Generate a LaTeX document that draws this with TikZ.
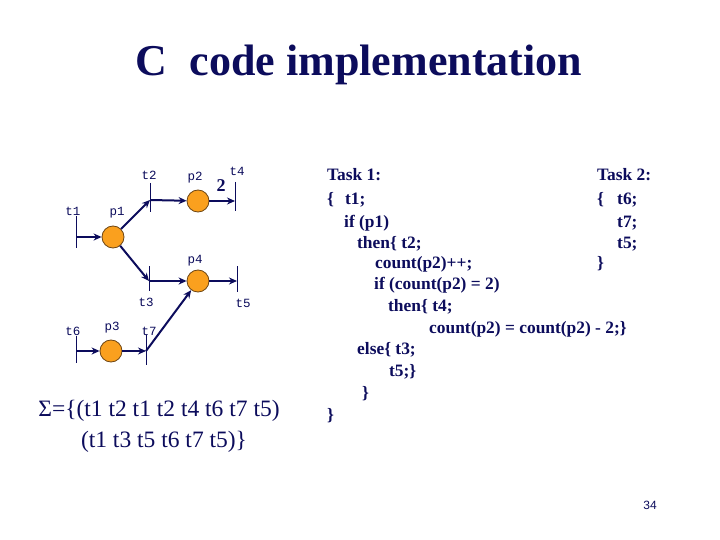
\documentclass[tikz,border=0pt]{standalone}
\usepackage{fontspec}
\setmainfont{Liberation Serif}
\newfontfamily\labfont{Liberation Mono}
\newfontfamily\numfont{Liberation Sans}
\usetikzlibrary{arrows.meta}
\definecolor{navy}{RGB}{12,12,92}
\definecolor{porange}{RGB}{250,160,30}
\definecolor{pborder}{RGB}{110,70,20}
\tikzset{
  place/.style={circle,draw=pborder,line width=0.8pt,fill=porange,minimum size=22pt,inner sep=0pt},
  trans/.style={draw=navy,line width=1pt},
  arc/.style={draw=navy,line width=2pt,-{Stealth[length=8pt,width=7pt]}},
  lab/.style={font=\labfont\fontsize{12.5}{12.5}\selectfont,text=navy,inner sep=0pt},
  code/.style={font=\bfseries\fontsize{17.4}{17.4}\selectfont,text=navy,anchor=base west,inner sep=0pt},
}
\begin{document}
\begin{tikzpicture}[x=1pt,y=-1pt]
\useasboundingbox (0,0) rectangle (720,540);
\fill[white] (0,0) rectangle (720,540);
% title
\node[font=\bfseries\fontsize{44}{44}\selectfont,text=navy,inner sep=0pt] (title) at (359,65) {C\ \ code implementation};
% transitions
\coordinate (t1) at (76,237);
\coordinate (t2) at (150,200);
\coordinate (t4) at (235,201);
\coordinate (t3) at (149,281);
\coordinate (t5) at (237,281);
\coordinate (t6) at (76,351);
\coordinate (t7) at (146,351);
\draw[trans] (76,216) -- (76,248);
\draw[trans] (150,183) -- (150,212);
\draw[trans] (235,182) -- (235,211);
\draw[trans] (149,266) -- (149,291);
\draw[trans] (237,266) -- (237,292);
\draw[trans] (76,336) -- (76,363);
\draw[trans] (146,335) -- (146,365);
% places
\node[place] (p1) at (113,237) {};
\node[place] (p2) at (198,201) {};
\node[place] (p4) at (198,281) {};
\node[place] (p3) at (111,351) {};
% arcs
\draw[arc] (t1) -- (p1);
\draw[arc] (p1) -- (t2);
\draw[arc] (t2) -- (p2);
\draw[arc] (p2) -- (t4);
\draw[arc] (p1) -- (t3);
\draw[arc] (t3) -- (p4);
\draw[arc] (p4) -- (t5);
\draw[arc] (t6) -- (p3);
\draw[arc] (p3) -- (t7);
\draw[arc] (t7) -- (p4);
% labels
\node[lab] (lt1) at (73,211) {t1};
\node[lab] (lp1) at (117,213) {p1};
\node[lab] (lt2) at (149,175) {t2};
\node[lab] (lp2) at (195,178) {p2};
\node[font=\bfseries\fontsize{18}{18}\selectfont,text=navy,inner sep=0pt] (w2) at (221,186) {2};
\node[lab] (lt4) at (237,171) {t4};
\node[lab] (lp4) at (195,261) {p4};
\node[lab] (lt3) at (146,302) {t3};
\node[lab] (lt5) at (243,303) {t5};
\node[lab] (lt6) at (73,331) {t6};
\node[lab] (lp3) at (112,328) {p3};
\node[lab] (lt7) at (149,331) {t7};
% sigma
\node[font=\fontsize{23.5}{23.5}\selectfont,text=navy,inner sep=0pt] (sig1) at (159,411) {Σ=\{(t1 t2 t1 t2 t4 t6 t7 t5)};
\node[font=\fontsize{23.5}{23.5}\selectfont,text=navy,inner sep=0pt] (sig2) at (164,442) {(t1 t3 t5 t6 t7 t5)\}};
% code task 1
\node[code] (c1) at (327,181) {Task 1:};
\node[code] (c2) at (327,205) {\{};
\node[code] (c2b) at (345,205) {t1;};
\node[code] (c3) at (344,227) {if (p1)};
\node[code] (c4) at (357,248) {then\{ t2;};
\node[code] (c5) at (375,268) {count(p2)++;};
\node[code] (c6) at (374,289) {if (count(p2) = 2)};
\node[code] (c7) at (388,311) {then\{ t4;};
\node[code] (c8) at (429,333) {count(p2) = count(p2) - 2;\}};
\node[code] (c9) at (357,354) {else\{ t3;};
\node[code] (c10) at (389,376) {t5;\}};
\node[code] (c11) at (362,398) {\}};
\node[code] (c12) at (327,420) {\}};
% code task 2
\node[code] (d1) at (597,181) {Task 2:};
\node[code] (d2) at (597,205) {\{};
\node[code] (d2b) at (617,205) {t6;};
\node[code] (d3) at (617,227) {t7;};
\node[code] (d4) at (617,248) {t5;};
\node[code] (d5) at (597,268) {\}};
% page number
\node[font=\numfont\fontsize{12}{12}\selectfont,text=navy,inner sep=0pt] (pg) at (650,505) {34};
\end{tikzpicture}
\end{document}
